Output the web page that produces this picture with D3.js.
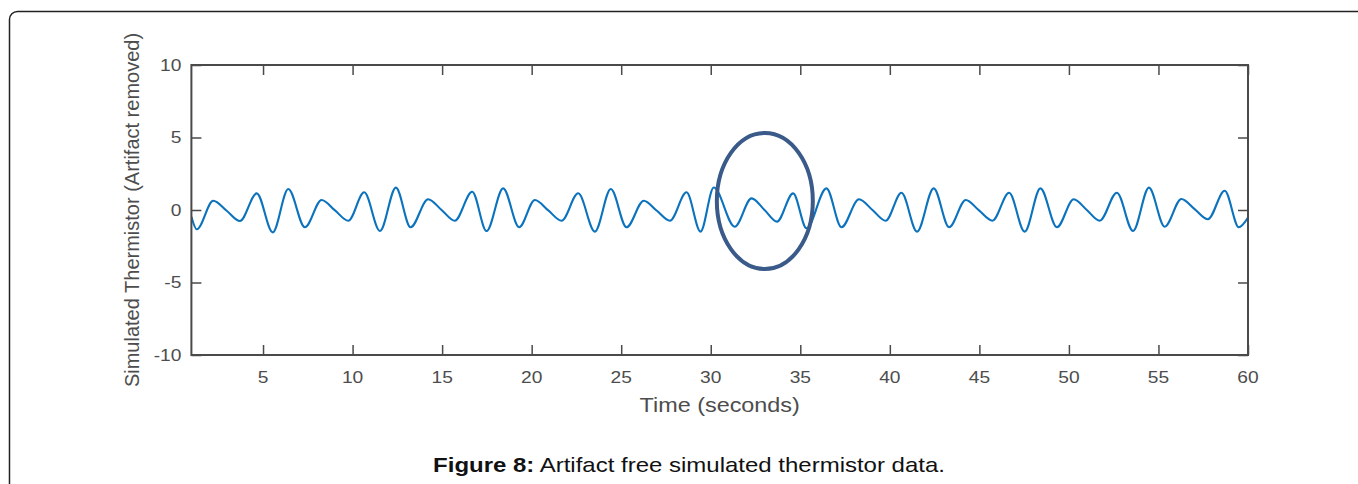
<!DOCTYPE html>
<html>
<head>
<meta charset="utf-8">
<script src="https://cdn.jsdelivr.net/npm/d3@7"></script>
<style>
  html, body { margin: 0; padding: 0; background: #fff; }
  svg { display: block; font-family: "Liberation Sans", Arial, sans-serif; }
</style>
</head>
<body>
<svg id="chart" width="1358" height="484"></svg>
<script>
// ---- data ----
const timeSec = [1.00, 1.30, 2.22, 2.97, 3.71, 4.65, 5.54, 6.41, 7.34, 8.27, 9.02, 9.76, 10.65, 11.53, 12.42, 13.24,
  14.22, 14.97, 15.71, 16.68, 17.48, 18.41, 19.30, 20.18, 20.93, 21.67, 22.60, 23.53, 24.42, 25.30,
  26.26, 26.99, 27.72, 28.65, 29.43, 30.17, 31.34, 32.28, 32.99, 33.70, 34.60, 35.35, 36.46, 37.30,
  38.28, 39.03, 39.77, 40.65, 41.52, 42.45, 43.31, 44.24, 44.98, 45.73, 46.66, 47.53, 48.41, 49.33,
  50.27, 51.00, 51.72, 52.68, 53.58, 54.47, 55.35, 56.28, 57.02, 57.76, 58.70, 59.49, 60.00];
const thermistor = [-0.46, -1.33, 0.64, -0.05, -0.76, 1.15, -1.54, 1.45, -1.19, 0.69, -0.03, -0.74, 1.22, -1.45, 1.54, -1.19,
  0.74, 0.00, -0.74, 1.26, -1.45, 1.49, -1.19, 0.69, -0.03, -0.74, 1.15, -1.49, 1.45, -1.19,
  0.64, -0.05, -0.74, 1.22, -1.49, 1.55, -1.15, 0.80, 0.02, -0.80, 1.15, -1.26, 1.49, -1.19,
  0.74, 0.00, -0.74, 1.19, -1.49, 1.49, -1.19, 0.69, -0.03, -0.74, 1.19, -1.49, 1.49, -1.19,
  0.74, 0.00, -0.74, 1.19, -1.45, 1.54, -1.15, 0.76, 0.06, -0.64, 1.33, -1.19, -0.53];
const xTicks = [5, 10, 15, 20, 25, 30, 35, 40, 45, 50, 55, 60];
const yTicks = [-10, -5, 0, 5, 10];
const xDomain = [1, 60];
const yDomain = [-10, 10];
// highlighted region (ellipse) in data units: centre time, centre value, half-width, half-height
const highlight = [33.02, 0.62, 2.68, 4.69];
const xLabel = "Time (seconds)";
const yLabel = "Simulated Thermistor (Artifact removed)";
const captionBold = "Figure 8:";
const captionRest = " Artifact free simulated thermistor data.";

// ---- layout ----
const L = 191.4, R = 1248, T = 65, B = 355;
const SX = 1.2; // horizontal stretch of the original figure
const axisCol = "#4a4a4a", textCol = "#4d4d4d", lineCol = "#0b72bd";

const svg = d3.select("#chart");

// outer rounded frame
svg.append("rect").attr("x", 9.5).attr("y", 11.5).attr("width", 1400).attr("height", 600)
  .attr("rx", 8).attr("fill", "none").attr("stroke", "#222").attr("stroke-width", 1.5);

const x = d3.scaleLinear().domain(xDomain).range([L, R]);
const y = d3.scaleLinear().domain(yDomain).range([B, T]);

const data = timeSec.map((t, i) => [t, thermistor[i]]);

svg.append("clipPath").attr("id", "clip").append("rect")
  .attr("x", L).attr("y", T).attr("width", R - L).attr("height", B - T);

// signal
svg.append("path").datum(data)
  .attr("clip-path", "url(#clip)")
  .attr("fill", "none").attr("stroke", lineCol).attr("stroke-width", 2.1)
  .attr("stroke-linejoin", "round")
  .attr("d", d3.line().x(d => x(d[0])).y(d => y(d[1])).curve(d3.curveMonotoneX));

// axes (ticks inward, no labels)
function styleAxis(g) {
  g.selectAll("path").remove();
  g.selectAll("line").attr("stroke", axisCol).attr("stroke-width", 1.5);
}
svg.append("g").attr("transform", `translate(0,${B})`)
  .call(d3.axisBottom(x).tickValues(xTicks).tickSizeInner(-10).tickSizeOuter(0).tickFormat("")).call(styleAxis);
svg.append("g").attr("transform", `translate(0,${T})`)
  .call(d3.axisTop(x).tickValues(xTicks).tickSizeInner(-10).tickSizeOuter(0).tickFormat("")).call(styleAxis);
svg.append("g").attr("transform", `translate(${L},0)`)
  .call(d3.axisLeft(y).tickValues(yTicks).tickSizeInner(-10).tickSizeOuter(0).tickFormat("")).call(styleAxis);
svg.append("g").attr("transform", `translate(${R},0)`)
  .call(d3.axisRight(y).tickValues(yTicks).tickSizeInner(-10).tickSizeOuter(0).tickFormat("")).call(styleAxis);

// box
svg.append("rect").attr("x", L).attr("y", T).attr("width", R - L).attr("height", B - T)
  .attr("fill", "none").attr("stroke", axisCol).attr("stroke-width", 2);

// tick labels
svg.append("g").selectAll("text").data(xTicks).join("text")
  .attr("transform", d => `translate(${x(d)},${B + 28}) scale(${SX},1)`)
  .attr("text-anchor", "middle").attr("font-size", 16).attr("fill", textCol)
  .text(d => d);
svg.append("g").selectAll("text").data(yTicks).join("text")
  .attr("transform", d => `translate(${L - 10},${y(d) + 5.8}) scale(${SX},1)`)
  .attr("text-anchor", "end").attr("font-size", 16).attr("fill", textCol)
  .text(d => d);

// axis labels
svg.append("text")
  .attr("transform", `translate(${(L + R) / 2},${412}) scale(${SX},1)`)
  .attr("text-anchor", "middle").attr("font-size", 19.5).attr("fill", textCol)
  .text(xLabel);
svg.append("text")
  .attr("transform", `translate(${139},${(T + B) / 2}) rotate(-90)`)
  .attr("text-anchor", "middle").attr("font-size", 20).attr("fill", textCol)
  .text(yLabel);

// highlight ellipse
svg.append("ellipse")
  .attr("cx", x(highlight[0])).attr("cy", y(highlight[1]))
  .attr("rx", x(highlight[0] + highlight[2]) - x(highlight[0]))
  .attr("ry", y(highlight[1]) - y(highlight[1] + highlight[3]))
  .attr("fill", "none").attr("stroke", "#3a5a8a").attr("stroke-width", 4);

// caption
const cap = svg.append("text")
  .attr("transform", `translate(${689},${471.5}) scale(${SX},1)`)
  .attr("text-anchor", "middle").attr("font-size", 20).attr("fill", "#111");
cap.append("tspan").attr("font-weight", "bold").text(captionBold);
cap.append("tspan").text(captionRest);
</script>
</body>
</html>
